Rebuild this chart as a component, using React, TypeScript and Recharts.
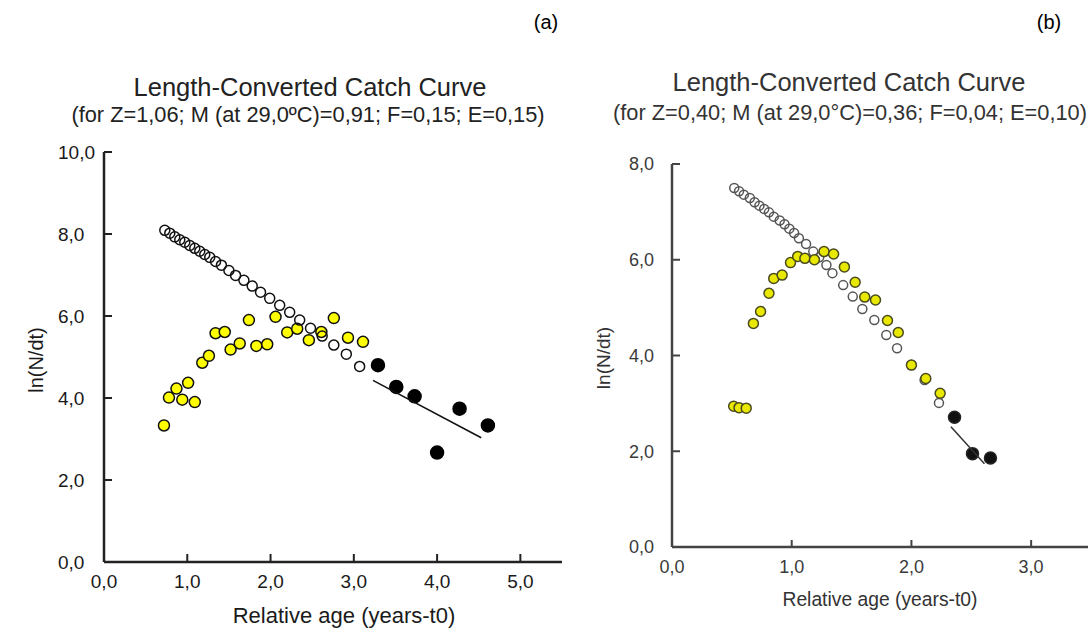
import { ScatterChart, Scatter, XAxis, YAxis } from 'recharts'

// panel (a) values
const A_OPEN_AGE = [0.73, 0.79, 0.85, 0.91, 0.97, 1.03, 1.09, 1.15, 1.21, 1.27, 1.34, 1.41, 1.5, 1.58, 1.68, 1.78, 1.88, 1.99, 2.11, 2.23, 2.35, 2.48, 2.62, 2.76, 2.91, 3.07]
const A_OPEN_LN = [8.09, 8.02, 7.93, 7.86, 7.8, 7.72, 7.65, 7.58, 7.5, 7.43, 7.33, 7.24, 7.11, 6.99, 6.87, 6.73, 6.58, 6.43, 6.26, 6.09, 5.9, 5.7, 5.51, 5.29, 5.07, 4.77]
const A_YEL_AGE = [0.72, 0.78, 0.87, 0.94, 1.01, 1.09, 1.18, 1.26, 1.34, 1.45, 1.52, 1.63, 1.74, 1.83, 1.96, 2.06, 2.2, 2.32, 2.46, 2.61, 2.76, 2.93, 3.11]
const A_YEL_LN = [3.33, 4.01, 4.23, 3.96, 4.37, 3.9, 4.86, 5.03, 5.58, 5.61, 5.18, 5.33, 5.9, 5.27, 5.31, 5.98, 5.6, 5.69, 5.41, 5.61, 5.95, 5.47, 5.37]
const A_BLK_AGE = [3.29, 3.51, 3.73, 4.0, 4.27, 4.61]
const A_BLK_LN = [4.8, 4.27, 4.04, 2.67, 3.74, 3.33]
const A_FIT_AGE = [3.23, 4.53]
const A_FIT_LN = [4.43, 3.03]
const A_X_TICKS = [0, 1, 2, 3, 4, 5]
const A_Y_TICKS = [0, 2, 4, 6, 8, 10]

// panel (b) values
const B_OPEN_AGE = [0.52, 0.56, 0.6, 0.65, 0.69, 0.73, 0.77, 0.81, 0.85, 0.9, 0.94, 0.98, 1.02, 1.06, 1.12, 1.18, 1.23, 1.29, 1.34, 1.43, 1.51, 1.59, 1.69, 1.79, 1.88, 2.0, 2.11, 2.23]
const B_OPEN_LN = [7.5, 7.43, 7.36, 7.29, 7.2, 7.13, 7.06, 6.99, 6.9, 6.82, 6.74, 6.65, 6.56, 6.45, 6.33, 6.17, 6.05, 5.89, 5.72, 5.47, 5.23, 4.97, 4.74, 4.43, 4.15, 3.8, 3.49, 3.01]
const B_YEL_AGE = [0.515, 0.56, 0.62, 0.68, 0.74, 0.81, 0.85, 0.92, 0.99, 1.05, 1.11, 1.19, 1.27, 1.35, 1.44, 1.53, 1.61, 1.7, 1.8, 1.89, 2.0, 2.12, 2.24]
const B_YEL_LN = [2.94, 2.91, 2.9, 4.67, 4.92, 5.3, 5.61, 5.68, 5.94, 6.07, 6.03, 6.0, 6.17, 6.12, 5.85, 5.53, 5.22, 5.16, 4.73, 4.48, 3.8, 3.52, 3.21]
const B_BLK_AGE = [2.36, 2.51, 2.66]
const B_BLK_LN = [2.71, 1.95, 1.86]
const B_FIT_AGE = [2.33, 2.61]
const B_FIT_LN = [2.51, 1.74]
const B_X_TICKS = [0, 1, 2, 3]
const B_Y_TICKS = [0, 2, 4, 6, 8]

const toPoints = (xs: number[], ys: number[]) => xs.map((x, i) => ({ x, y: ys[i] }))
const fmt = (v: number) => v.toFixed(1).replace('.', ',')
const FONT = '"Liberation Sans", Arial, sans-serif'

const dot = (r: number, fill: string, stroke: string, sw = 1.5) => (p: any) => (
  <circle cx={p.cx} cy={p.cy} r={r} fill={fill} stroke={stroke} strokeWidth={sw} />
)
const noDot = () => <g />

export default function App() {
  return (
    <div style={{ position: 'absolute', left: 0, top: 0, width: 1088, height: 632, background: '#fff', fontFamily: FONT }}>
      {/* (a) */}
      <div style={{ position: 'absolute', left: 0, top: 0 }}>
        <ScatterChart width={580} height={632} margin={{ top: 152, left: 44, right: 18, bottom: 30 }}>
          <XAxis
            type="number"
            dataKey="x"
            domain={[0, 5.5]}
            ticks={A_X_TICKS}
            interval={0}
            height={40}
            tickFormatter={fmt}
            tickSize={-8}
            tickMargin={21}
            axisLine={{ stroke: '#222', strokeWidth: 2.5 }}
            tickLine={{ stroke: '#222', strokeWidth: 2 }}
            tick={{ fill: '#1a1a1a', fontSize: 19, fontFamily: FONT }}
          />
          <YAxis
            type="number"
            dataKey="y"
            domain={[0, 10]}
            ticks={A_Y_TICKS}
            interval={0}
            width={60}
            tickFormatter={fmt}
            tickSize={-8}
            tickMargin={54}
            axisLine={{ stroke: '#222', strokeWidth: 2.5 }}
            tickLine={{ stroke: '#222', strokeWidth: 2 }}
            tick={{ fill: '#1a1a1a', fontSize: 19, fontFamily: FONT, textAnchor: 'start' }}
          />
          <Scatter data={toPoints(A_YEL_AGE, A_YEL_LN)} shape={dot(5.5, '#ffff00', '#111')} isAnimationActive={false} />
          <Scatter data={toPoints(A_OPEN_AGE, A_OPEN_LN)} shape={dot(5, 'none', '#111')} isAnimationActive={false} />
          <Scatter data={toPoints(A_BLK_AGE, A_BLK_LN)} shape={dot(6.5, '#000', '#000')} isAnimationActive={false} />
          <Scatter
            data={toPoints(A_FIT_AGE, A_FIT_LN)}
            line={{ stroke: '#111', strokeWidth: 1.5 }}
            shape={noDot}
            isAnimationActive={false}
          />
        </ScatterChart>
      </div>

      {/* (b) */}
      <div style={{ position: 'absolute', left: 560, top: 0 }}>
        <ScatterChart width={528} height={632} margin={{ top: 164, left: 52, right: 0, bottom: 45 }}>
          <XAxis
            type="number"
            dataKey="x"
            domain={[0, 3.475]}
            ticks={B_X_TICKS}
            interval={0}
            height={40}
            tickFormatter={fmt}
            tickSize={-7}
            tickMargin={20}
            axisLine={{ stroke: '#444', strokeWidth: 2.5 }}
            tickLine={{ stroke: '#444', strokeWidth: 2 }}
            tick={{ fill: '#3a3a3a', fontSize: 18, fontFamily: FONT }}
          />
          <YAxis
            type="number"
            dataKey="y"
            domain={[0, 8]}
            ticks={B_Y_TICKS}
            interval={0}
            width={60}
            tickFormatter={fmt}
            tickSize={-8}
            tickMargin={51}
            axisLine={{ stroke: '#444', strokeWidth: 2.5 }}
            tickLine={{ stroke: '#444', strokeWidth: 2 }}
            tick={{ fill: '#3a3a3a', fontSize: 18, fontFamily: FONT, textAnchor: 'start' }}
          />
          <Scatter data={toPoints(B_OPEN_AGE, B_OPEN_LN)} shape={dot(4.5, 'none', '#555')} isAnimationActive={false} />
          <Scatter data={toPoints(B_YEL_AGE, B_YEL_LN)} shape={dot(5, '#e8e800', '#4a4a20')} isAnimationActive={false} />
          <Scatter data={toPoints(B_BLK_AGE, B_BLK_LN)} shape={dot(6, '#111', '#222')} isAnimationActive={false} />
          <Scatter
            data={toPoints(B_FIT_AGE, B_FIT_LN)}
            line={{ stroke: '#333', strokeWidth: 1.5 }}
            shape={noDot}
            isAnimationActive={false}
          />
        </ScatterChart>
      </div>

      {/* titles and axis labels */}
      <svg width={1088} height={632} style={{ position: 'absolute', left: 0, top: 0, pointerEvents: 'none' }} fontFamily={FONT}>
        <text x={546} y={29} fontSize={20} textAnchor="middle" fill="#000">(a)</text>
        <text x={1049} y={29} fontSize={20} textAnchor="middle" fill="#000">(b)</text>

        <text x={310} y={96} fontSize={25.5} textAnchor="middle" fill="#222">Length-Converted Catch Curve</text>
        <text x={308} y={122} fontSize={21.8} textAnchor="middle" fill="#222">(for Z=1,06; M (at 29,0ºC)=0,91; F=0,15; E=0,15)</text>
        <text x={344} y={623} fontSize={22} textAnchor="middle" fill="#1a1a1a">Relative age (years-t0)</text>
        <text x={43} y={360} fontSize={20} textAnchor="middle" fill="#1a1a1a" transform="rotate(-90 43 360)">ln(N/dt)</text>

        <text x={849} y={91} fontSize={25.5} textAnchor="middle" fill="#333">Length-Converted Catch Curve</text>
        <text x={850} y={120} fontSize={21.8} textAnchor="middle" fill="#333">(for Z=0,40; M (at 29,0°C)=0,36; F=0,04; E=0,10)</text>
        <text x={880} y={606} fontSize={19.3} textAnchor="middle" fill="#333">Relative age (years-t0)</text>
        <text x={610} y={358} fontSize={19} textAnchor="middle" fill="#333" transform="rotate(-90 610 358)">ln(N/dt)</text>
      </svg>
    </div>
  )
}
